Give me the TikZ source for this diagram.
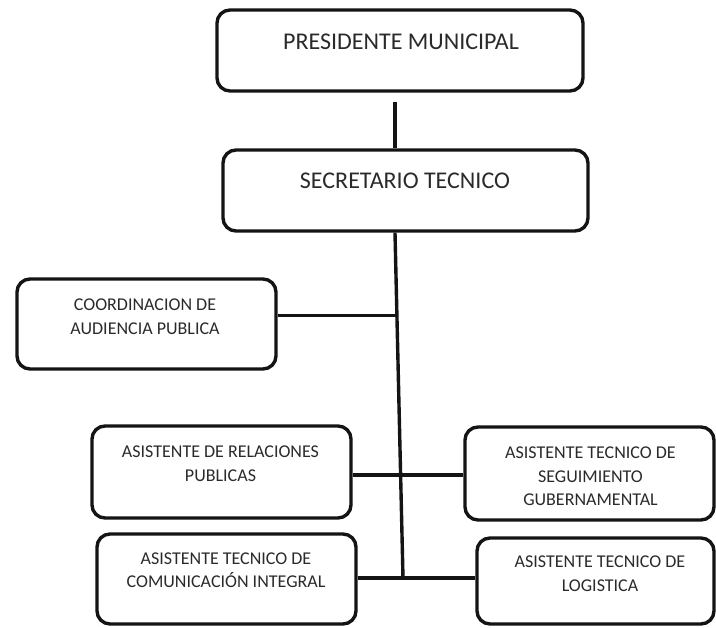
\documentclass[tikz,border=0pt]{standalone}
\usepackage{fontspec}
\setmainfont{Carlito}
\usetikzlibrary{calc}
\definecolor{ink}{HTML}{141414}
\definecolor{txt}{HTML}{2A2A2A}
\tikzset{
  orgbox/.style={draw=ink, line width=3.4pt, rounded corners=13pt, inner sep=0pt},
  link/.style={draw=ink, line width=3.4pt},
  bigtxt/.style={text=txt, font=\fontsize{24}{29}\selectfont, inner sep=0pt},
  smalltxt/.style={text=txt, font=\fontsize{18}{23.5}\selectfont, align=center, inner sep=0pt},
}
\begin{document}
\begin{tikzpicture}[x=1pt,y=-1pt]
\useasboundingbox (0,0) rectangle (716,628);

% boxes
\node[orgbox, minimum width=366pt, minimum height=81pt] (pres) at (400,50.5) {};
\node[orgbox, minimum width=365pt, minimum height=81pt] (sec) at (405.5,190.5) {};
\node[orgbox, minimum width=259pt, minimum height=90pt] (coord) at (146.5,324) {};
\node[orgbox, minimum width=259pt, minimum height=92pt] (rel) at (221.5,472) {};
\node[orgbox, minimum width=249pt, minimum height=93pt] (seg) at (589.5,473.5) {};
\node[orgbox, minimum width=259pt, minimum height=90pt] (com) at (226.5,579) {};
\node[orgbox, minimum width=237pt, minimum height=86pt] (log) at (595.5,581) {};

% labels
\node[bigtxt] (pres-t) at (401,42) {PRESIDENTE MUNICIPAL};
\node[bigtxt] (sec-t) at (405,181) {SECRETARIO TECNICO};
\node[smalltxt] (coord-t) at (145,316.5) {COORDINACION DE\\AUDIENCIA PUBLICA};
\node[smalltxt] (rel-t) at (220.5,463.5) {ASISTENTE DE RELACIONES\\PUBLICAS};
\node[smalltxt] (seg-t) at (590.5,476.5) {ASISTENTE TECNICO DE\\SEGUIMIENTO\\GUBERNAMENTAL};
\node[smalltxt] (com-t) at (226,570) {ASISTENTE TECNICO DE\\COMUNICACIÓN INTEGRAL};
\node[smalltxt] (log-t) at (600,573.5) {ASISTENTE TECNICO DE\\LOGISTICA};

% main spine
\coordinate (top) at (395,233);
\coordinate (bot) at (403,578);
\coordinate (j1) at ($(top)!0.239!(bot)$);
\coordinate (j2) at ($(top)!0.701!(bot)$);

\draw[link] ($(pres.south -| top)+(0,9)$) -- (sec.north -| top);
\draw[link] (sec.south -| top) -- (bot);
\draw[link] (coord.east |- j1) -- (j1);
\draw[link] (rel.east |- j2) -- (seg.west |- j2);
\draw[link] (com.east |- bot) -- (log.west |- bot);
\end{tikzpicture}
\end{document}
